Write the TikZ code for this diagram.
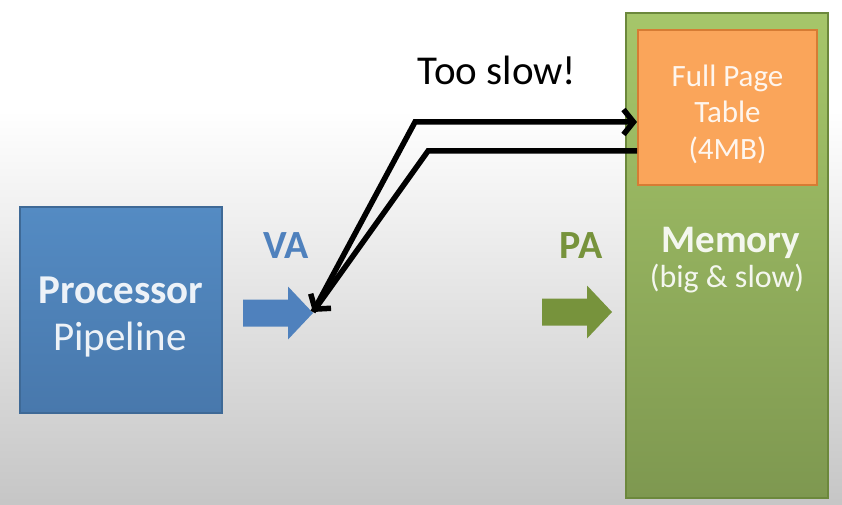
\documentclass[tikz,border=0pt]{standalone}
\usepackage{fontspec}
\setmainfont{Carlito}
\usetikzlibrary{arrows.meta}

\definecolor{procblue}{RGB}{84,139,195}
\definecolor{procbluedark}{RGB}{72,120,172}
\definecolor{procedge}{RGB}{62,105,150}
\definecolor{memgreen}{RGB}{166,198,106}
\definecolor{memgreendark}{RGB}{126,152,80}
\definecolor{memedge}{RGB}{108,136,60}
\definecolor{tableorange}{RGB}{250,165,90}
\definecolor{tableedge}{RGB}{214,124,52}
\definecolor{vablue}{RGB}{79,129,189}
\definecolor{pagreen}{RGB}{119,147,60}

\begin{document}
\begin{tikzpicture}[x=1pt,y=-1pt,
  box/.style={rectangle,line width=2pt,inner sep=0pt},
  boxtext/.style={text=white,text opacity=0.9,anchor=base},
  tag/.style={font=\fontsize{40}{48}\selectfont\bfseries,anchor=base},
  link/.style={line width=5.5pt,-{Straight Barb[length=10pt,width=25pt]}},
  blockarrow/.pic={\fill (0,-13.5) -- (45,-13.5) -- (45,-26.5) -- (70,0) -- (45,26.5) -- (45,13.5) -- (0,13.5) -- cycle;}
  ]
% background
\fill[white] (0,0) rectangle (842,505);
\shade[top color=white,bottom color=gray!45] (0,110) rectangle (842,505);
\useasboundingbox (0,0) rectangle (842,505);

% processor
\node[box,top color=procblue,bottom color=procbluedark,draw=procedge,
      minimum width=202pt,minimum height=206pt] (proc) at (121,310) {};
\node[boxtext,font=\fontsize{41}{48}\selectfont\bfseries] (proctop) at (121,303) {Processor};
\node[boxtext,font=\fontsize{41}{48}\selectfont] (procbot) at (120,350) {Pipeline};

% addresses
\node[tag,text=vablue] (va) at (286,258) {VA};
\pic[vablue] (vaarrow) at (243,313) {blockarrow};
\coordinate (vatip) at (313,312);
\node[tag,text=pagreen] (pa) at (581,258) {PA};
\pic[pagreen] (paarrow) at (542,312) {blockarrow};

% memory
\node[box,top color=memgreen,bottom color=memgreendark,draw=memedge,
      minimum width=202pt,minimum height=485pt] (mem) at (727,255.5) {};
\node[box,fill=tableorange,draw=tableedge,
      minimum width=179pt,minimum height=155pt] (table) at (727.5,107.5) {};
\node[boxtext,font=\fontsize{31}{37}\selectfont] (tab1) at (727.5,87) {Full Page};
\node[boxtext,font=\fontsize{31}{37}\selectfont] (tab2) at (727.5,123) {Table};
\node[boxtext,font=\fontsize{31}{37}\selectfont] (tab3) at (727.5,160) {(4MB)};
\node[boxtext,font=\fontsize{39}{46}\selectfont\bfseries] (memtop) at (731,252) {Memory};
\node[boxtext,font=\fontsize{32}{38}\selectfont] (membot) at (727,287) {(big \& slow)};

% lookup
\node[anchor=base,font=\fontsize{41}{48}\selectfont] (slow) at (497,85) {Too slow!};
\draw[link] (vatip) -- (415,122) -- ([yshift=-14.5pt]table.west);
\draw[link] ([yshift=-43.5pt]table.west) -- (428,151) -- (vatip);
\end{tikzpicture}
\end{document}
